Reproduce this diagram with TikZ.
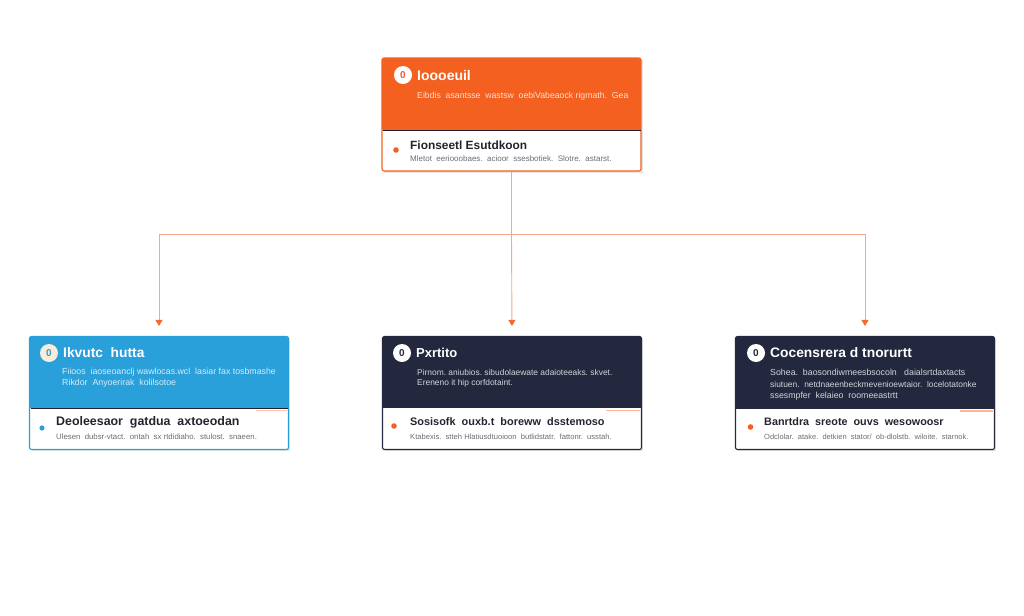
\documentclass[tikz,border=0pt]{standalone}
\usepackage{fontspec}
\setmainfont{Liberation Sans}
\usetikzlibrary{arrows.meta,calc}
\definecolor{orng}{HTML}{F4601F}
\definecolor{blu}{HTML}{2AA0DA}
\definecolor{navy}{HTML}{23283E}
\definecolor{sep}{HTML}{1E2130}
\definecolor{conn}{HTML}{F3A88A}
\definecolor{tip}{HTML}{F26A2E}
\definecolor{cream}{HTML}{FBEBD9}
\definecolor{lowtitle}{HTML}{22252E}
\definecolor{lowdesc}{HTML}{6B6E76}
\begin{document}
\begin{tikzpicture}[x=1pt,y=-1pt,
  card/.style={draw, line width=1.1pt, fill=white, rounded corners=2pt, inner sep=0pt, minimum width=259pt, minimum height=113pt},
  icon/.style={circle, inner sep=0pt, minimum size=18pt, font=\fontsize{10}{10}\selectfont\bfseries},
  hdtitle/.style={anchor=west, inner sep=1pt, text=white, font=\fontsize{#1}{#1}\selectfont\bfseries},
  hdtitle/.default=13.5,
  hddesc/.style={anchor=west, inner sep=1pt, text=white, opacity=0.8, font=\fontsize{#1}{#1}\selectfont},
  hddesc/.default=8.8,
  lotitle/.style={anchor=west, inner sep=1pt, text=lowtitle, font=\fontsize{#1}{#1}\selectfont\bfseries},
  lotitle/.default=11.5,
  lodesc/.style={anchor=west, inner sep=1pt, text=lowdesc, font=\fontsize{#1}{#1}\selectfont},
  lodesc/.default=7.8,
  link/.style={draw=conn, line width=0.9pt},
  arrowlink/.style={link, -{Triangle[width=7pt,length=6pt,fill=tip,color=tip]}, shorten >=10pt}
]
\useasboundingbox[fill=white] (0,0) rectangle (1024,615);

% ---------- top card ----------
\fill[black!10] (384,60) rectangle (643,173);
\node[card, draw=orng] (top) at (511.5,114.5) {};
\begin{scope}
  \clip[rounded corners=2pt] (top.north west) rectangle (top.south east);
  \fill[orng] (382,58) rectangle (641,130);
\end{scope}
\draw[sep, line width=1.6pt] (382.5,130.5) -- (640.5,130.5);
\node[icon, fill=white, text=orng] (topi) at (403,75) {0};
\node[hdtitle=14] (topt) at (416,75) {Ioooeuil};
\node[hddesc=8.7] (topd) at (416,96) {Eibdis\ \ asantsse\ \ wastsw\ \ oebiVabeaock rigmath.\ \ Gea};
\fill[orng] (396,150) circle (2.8);
\node[lotitle=11.9] (toplt) at (409,145) {Fionseetl Esutdkoon};
\node[lodesc=8] (topld) at (409,159) {Mletot\ \ eeriooobaes.\ \ acioor\ \ ssesbotiek.\ \ Slotre.\ \ astarst.};

% ---------- left card ----------
\fill[black!10] (32,339) rectangle (290,451);
\node[card, draw=blu] (lft) at (159,393) {};
\begin{scope}
  \clip[rounded corners=2pt] (lft.north west) rectangle (lft.south east);
  \fill[blu] (30,337) rectangle (288,408);
\end{scope}
\draw[sep, line width=1.6pt] (30.5,408.5) -- (287.5,408.5);
\draw[orng!35, line width=1.4pt] (256,410.5) -- (287,410.5);
\node[icon, fill=cream, text=blu] (lfti) at (49,353) {0};
\node[hdtitle=13.8] (lftt) at (62,353) {Ikvutc\ \ hutta};
\node[hddesc=8.8] (lftd1) at (61,372) {Fiioos\ \ iaoseoanclj wawlocas.wcl\ \ lasiar fax tosbmashe};
\node[hddesc=8.8] (lftd2) at (61,383) {Rikdor\ \ Anyoerirak\ \ kolilsotoe};
\fill[blu] (42,428) circle (2.6);
\node[lotitle=12.4] (lftlt) at (55,422) {Deoleesaor\ \ gatdua\ \ axtoeodan};
\node[lodesc=7.8] (lftld) at (55,437) {Ulesen\ \ dubsr-vtact.\ \ ontah\ \ sx rtdidiaho.\ \ stulost.\ \ snaeen.};

% ---------- middle card ----------
\fill[black!10] (385,339) rectangle (643,451);
\node[card, draw=navy] (mid) at (512,393) {};
\begin{scope}
  \clip[rounded corners=2pt] (mid.north west) rectangle (mid.south east);
  \fill[navy] (383,337) rectangle (641,408);
\end{scope}
\draw[orng!45, line width=1.4pt] (606,410.5) -- (640,410.5);
\node[icon, fill=white, text=navy] (midi) at (402,353) {0};
\node[hdtitle=13] (midt) at (415,353) {Pxrtito};
\node[hddesc=8.4] (midd1) at (416,372) {Pirnom.\ aniubios.\ sibudolaewate\ adaioteeaks.\ skvet.};
\node[hddesc=8.4] (midd2) at (416,383) {Ereneno it hip corfdotaint.};
\fill[orng] (394,426) circle (2.8);
\node[lotitle=10.9] (midlt) at (409,422) {Sosisofk\ \ ouxb.t\ \ boreww\ \ dsstemoso};
\node[lodesc=7.6] (midld) at (409,437) {Ktabexis.\ \ stteh Hlatiusdtuoioon\ \ butlidstatr.\ \ fattonr.\ \ usstah.};

% ---------- right card ----------
\fill[black!10] (738,339) rectangle (996,451);
\node[card, draw=navy] (rgt) at (865,393) {};
\begin{scope}
  \clip[rounded corners=2pt] (rgt.north west) rectangle (rgt.south east);
  \fill[navy] (736,337) rectangle (994,409);
\end{scope}
\draw[orng!45, line width=1.4pt] (960,411) -- (993,411);
\node[icon, fill=white, text=navy] (rgti) at (756,353) {0};
\node[hdtitle=13.8] (rgtt) at (769,353) {Cocensrera d tnorurtt};
\node[hddesc=8.8] (rgtd1) at (769,372) {Sohea.\ \ baosondiwmeesbsocoln\ \ \ daialsrtdaxtacts};
\node[hddesc=8.4] (rgtd2) at (769,384) {siutuen.\ \ netdnaeenbeckmevenioewtaior.\ \ locelotatonke};
\node[hddesc=8.8] (rgtd3) at (769,396) {ssesmpfer\ \ kelaieo\ \ roomeeastrtt};
\fill[orng] (750.5,427) circle (2.8);
\node[lotitle=10.8] (rgtlt) at (763,422) {Banrtdra\ \ sreote\ \ ouvs\ \ wesowoosr};
\node[lodesc=7.5] (rgtld) at (763,437) {Odclolar.\ \ atake.\ \ detkien\ \ stator/\ \ ob-dlolstb.\ \ wiloite.\ \ starnok.};

% ---------- connectors ----------
\coordinate (bus) at (511.5,234);
\draw[link] (top.south) -- (bus);
\draw[arrowlink] (bus) -| (lft.north);
\draw[arrowlink] (bus) -- (mid.north);
\draw[arrowlink] (bus) -| (rgt.north);
\end{tikzpicture}
\end{document}
